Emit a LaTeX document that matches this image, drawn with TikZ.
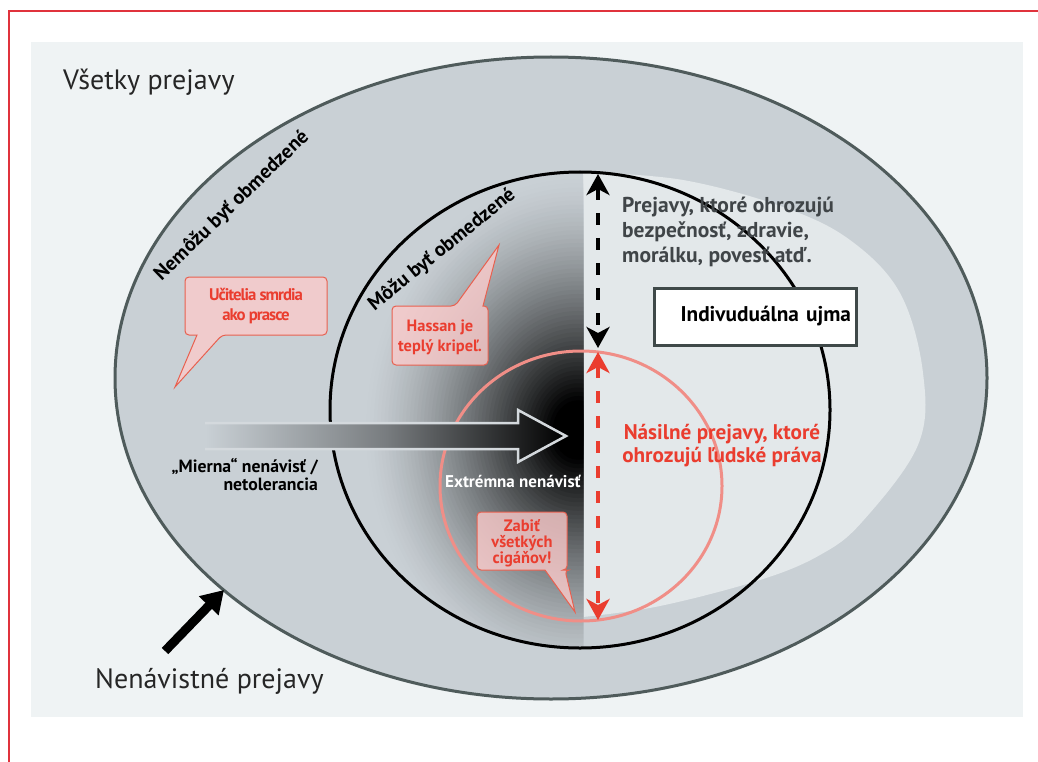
\documentclass[tikz,border=0pt]{standalone}
\usepackage{fontspec}
\setmainfont{PT Sans}
\usepackage{tikz}
\usetikzlibrary{positioning}
\usetikzlibrary{arrows.meta}
\usetikzlibrary{calc}

\definecolor{panelbg}{HTML}{EFF3F4}
\definecolor{outergray}{HTML}{C9D0D5}
\definecolor{outeredge}{HTML}{4F5B5B}
\definecolor{lightzone}{HTML}{E3E8EA}
\definecolor{hatered}{HTML}{EA3D2F}
\definecolor{ringred}{HTML}{F08E87}
\definecolor{bubblefill}{HTML}{FACACA}
\definecolor{bubbleedge}{HTML}{E8604F}
\definecolor{framered}{HTML}{E0323C}
\definecolor{textgray}{HTML}{404548}
\definecolor{arrowedge}{HTML}{D4D9DD}

\tikzset{
  zone/.style={draw=outeredge, line width=3pt, fill=outergray},
  ring/.style={line width=3pt},
  bubble/.style={draw=bubbleedge, line width=1pt, fill=bubblefill, fill opacity=0.8},
  bubbletext/.style={text=hatered, align=center, inner sep=0pt, anchor=base},
  limitarrow/.style={line width=4.5pt, dash pattern=on 12pt off 13pt,
    {Stealth[length=21pt,width=23pt,inset=6pt]}-{Stealth[length=21pt,width=23pt,inset=6pt]}},
}

\begin{document}
\begin{tikzpicture}[x=1pt,y=-1pt]
    \useasboundingbox (0,0) rectangle (1038,762);
    \draw[framered, line width=1.5pt] (9,762) -- (9,11) -- (1038,11);
    \fill[panelbg] (31,42) rectangle (1023,717);

    % zones
    \draw[zone] (551,378) ellipse [x radius=436, y radius=321];
    \fill[lightzone] plot[smooth, tension=0.6] coordinates {(583,172) (683,180) (783,207) (850,240)
      (900,293) (923,373) (918,445) (862,522) (820,555) (760,580) (660,606) (583,617)} -- cycle;
    \begin{scope}
      \clip (300,100) rectangle (583,700);
      \clip (580,410) ellipse [x radius=250, y radius=238];
      \foreach \i in {0,...,59} {
        \pgfmathsetmacro\fade{1-\i/60}
        \pgfmathsetmacro\shadeamt{min(100,100*(\i/60/0.88)^1.4)}
        \fill[black!\shadeamt!outergray] (578,430) ellipse [x radius=215*\fade, y radius=255*\fade];
      }
    \end{scope}
    \draw[ring] (580,410) ellipse [x radius=250, y radius=238];
    \draw[ring, ringred] (581,486) ellipse [x radius=141, y radius=135];

    % big arrow
    \shade[left color=outergray, right color=black, middle color=outergray!60!black]
      (205,423) -- (518,423) -- (518,410) -- (566,436) -- (518,462) -- (518,449) -- (205,449) -- cycle;
    \draw[arrowedge, line width=2.5pt, line join=miter]
      (205,423) -- (518,423) -- (518,410) -- (566,436) -- (518,462) -- (518,449) -- (205,449);

    % limits
    \coordinate (harmtop) at (598,174);
    \coordinate (harmbot) at (598,348);
    \coordinate (violtop) at (598,352);
    \coordinate (violbot) at (598,620);
    \draw[limitarrow] (harmtop) -- (harmbot);
    \draw[limitarrow, hatered] (violtop) -- (violbot);

    \coordinate (hatetail) at (165,651);
    \coordinate (hateedge) at (224,590);
    \draw[line width=9pt, -{Triangle[length=22pt,width=26pt]}] (hatetail) -- (hateedge);

    % bubbles
    \draw[bubble] (256,277) [rounded corners=4pt] -- (327,277) -- (327,335) -- (222,335)
      [sharp corners] -- (175,387) -- (197,335) [rounded corners=4pt] -- (185,335) -- (185,277) -- cycle;
    \draw[bubble] (392,335) [rounded corners=4pt] -- (392,306) -- (455,306)
      [sharp corners] -- (499,245) -- (483,306) [rounded corners=4pt] -- (488,306) -- (488,365) -- (392,365) -- cycle;
    \draw[bubble] (477,540) [rounded corners=4pt] -- (477,512) -- (567,512) -- (567,570) -- (565,570)
      [sharp corners] -- (575,612) -- (545,570) [rounded corners=4pt] -- (477,570) -- cycle;

    \node[bubbletext, font=\bfseries\fontsize{16.8}{20}\selectfont\addfontfeature{LetterSpace=-6}] (teacher) at (256,320) {Učitelia smrdia\\ako prasce};
    \node[bubbletext, font=\bfseries\fontsize{16.4}{20}\selectfont] (hassan) at (440,351) {Hassan je\\teplý kripeľ.};
    \node[bubbletext, font=\bfseries\fontsize{16.5}{16}\selectfont] (gypsies) at (522,563) {Zabiť\\všetkých\\cigáňov!};

    % labels
    \node[anchor=base west, inner sep=0pt, font=\fontsize{28}{32}\selectfont, text=black!85] (allspeech) at (63,90) {Všetky prejavy};
    \node[anchor=base west, inner sep=0pt, font=\fontsize{28}{32}\selectfont, text=black!85] (hatespeech) at (95,688) {Nenávistné prejavy};
    \node[rotate=44, font=\bfseries\fontsize{20}{24}\selectfont] (cannot) at (232,206) {Nemôžu byť obmedzené};
    \node[rotate=39, font=\bfseries\fontsize{20}{24}\selectfont] (can) at (442,250) {Môžu byť obmedzené};
    \node[anchor=base west, align=left, inner sep=0pt, text=textgray, font=\bfseries\fontsize{21.5}{25}\selectfont] (harmtext) at (622,262)
      {Prejavy, ktoré ohrozujú\\bezpečnosť, zdravie,\\morálku, povesť atď.};
    \node[draw=outeredge!80!black, line width=3pt, fill=white, minimum width=202pt, minimum height=57pt,
      text width=192pt, align=right, font=\bfseries\fontsize{21.3}{24}\selectfont] (injury) at (755,316.5) {Indivuduálna ujma};
    \node[anchor=base, align=center, inner sep=0pt, text=hatered, font=\bfseries\fontsize{21.2}{23}\selectfont] (violtext) at (722,462)
      {Násilné prejavy, ktoré\\ohrozujú ľudské práva};
    \node[anchor=base east, align=right, inner sep=0pt, font=\bfseries\fontsize{17.7}{18}\selectfont] (mild) at (318,490)
      {„Mierna“ nenávisť /\\netolerancia};
    \node[anchor=base, inner sep=0pt, text=white, font=\bfseries\fontsize{17}{16}\selectfont] (extreme) at (513,487) {Extrémna nenávisť};
\end{tikzpicture}
\end{document}
